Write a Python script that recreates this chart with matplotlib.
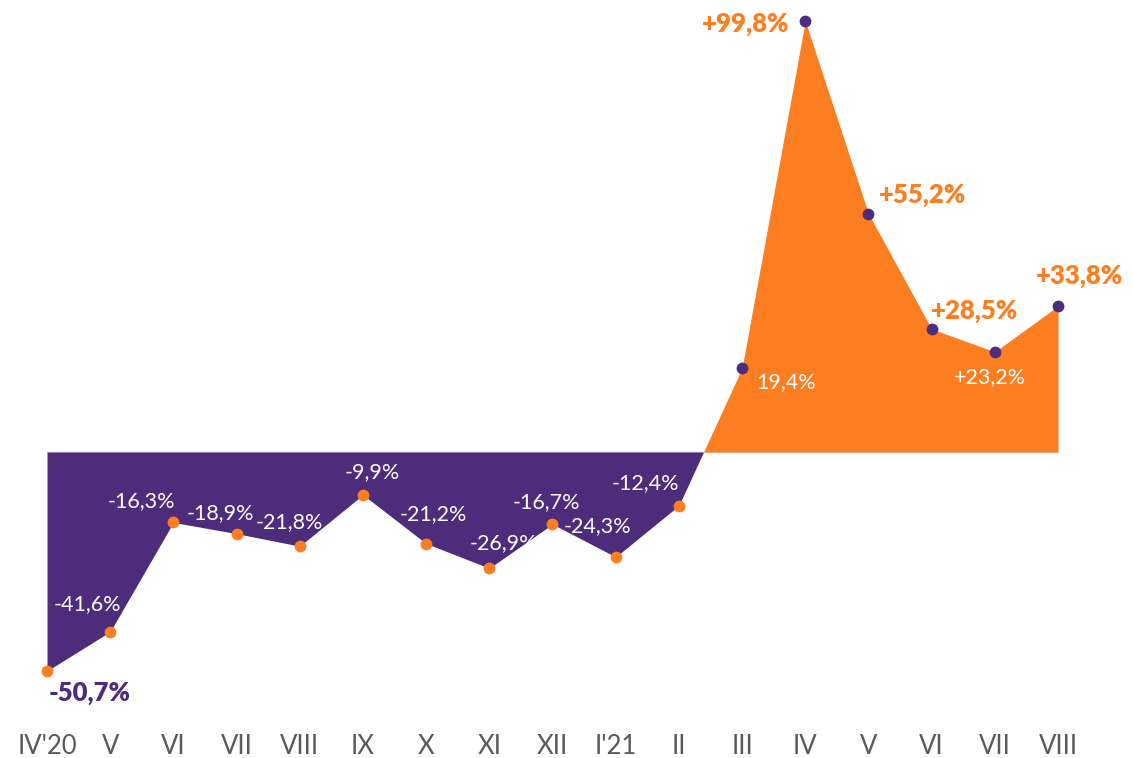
import matplotlib
matplotlib.use("Agg")
import matplotlib.pyplot as plt
import numpy as np

months = ["IV'20", "V", "VI", "VII", "VIII", "IX", "X", "XI", "XII", "I'21",
          "II", "III", "IV", "V", "VI", "VII", "VIII"]
values = [-50.7, -41.6, -16.3, -18.9, -21.8, -9.9, -21.2, -26.9, -16.7, -24.3,
          -12.4, 19.4, 99.8, 55.2, 28.5, 23.2, 33.8]
labels = ["-50,7%", "-41,6%", "-16,3%", "-18,9%", "-21,8%", "-9,9%", "-21,2%",
          "-26,9%", "-16,7%", "-24,3%", "-12,4%", "19,4%", "+99,8%", "+55,2%",
          "+28,5%", "+23,2%", "+33,8%"]
bold = [True, False, False, False, False, False, False, False, False, False,
        False, False, True, True, True, False, True]
# label offsets in pixels (dx, dy with dy positive = up)
offsets = [(43, -22), (-23, 28), (-32, 21), (-16, 21), (-10, 24), (9, 23),
           (7, 29), (14, 25), (-6, 22), (-18, 31), (-33, 22), (44, -14),
           (-60, -3), (54, 19), (43, 18), (-5, -25), (22, 30)]

PURPLE = "#4e2c7c"
ORANGE = "#fd7e21"

W, H = 1133, 758
fig = plt.figure(figsize=(W / 100, H / 100), dpi=100)
ax = fig.add_axes([0, 0, 1, 1])

x = np.arange(len(values))
y = np.array(values)

px_per_x = (1058 - 47) / 16.0
px_per_y = (452 - 21) / 99.8
ax.set_xlim(-47 / px_per_x, 16 + (W - 1058) / px_per_x)
ax.set_ylim(-(H - 452) / px_per_y, 452 / px_per_y)
ax.axis("off")

ax.fill_between(x, y, 0, where=y <= 0, interpolate=True, color=PURPLE, lw=0, zorder=1)
ax.fill_between(x, y, 0, where=y >= 0, interpolate=True, color=ORANGE, lw=0, zorder=1)
ax.plot([x[0], x[-1]], [0, 0], color="#d8d8d8", lw=1, zorder=0.5)

for xi, yi in zip(x, y):
    ax.plot(xi, yi, "o", ms=8.5, mec="none",
            color=ORANGE if yi < 0 else PURPLE, zorder=3)

for xi, yi, lab, b, (dx, dy) in zip(x, y, labels, bold, offsets):
    if b:
        col = PURPLE if yi < 0 else ORANGE
        ax.annotate(lab, (xi, yi), xytext=(dx * 0.72, dy * 0.72),
                    textcoords="offset points", ha="center", va="center",
                    fontsize=18.5, fontweight="heavy", color=col,
                    family="Lato", zorder=4)
    else:
        ax.annotate(lab, (xi, yi), xytext=(dx * 0.72, dy * 0.72),
                    textcoords="offset points", ha="center", va="center",
                    fontsize=15.5, fontweight="normal", color="white",
                    family="Lato", zorder=4)

for xi, m in zip(x, months):
    ax.text(xi, (H - 746) / H, m, transform=ax.get_xaxis_transform(),
            ha="center", va="center", fontsize=18.5, fontweight="normal",
            color="#5a5a5a", family="Lato")

fig.savefig("out.png", dpi=100)
